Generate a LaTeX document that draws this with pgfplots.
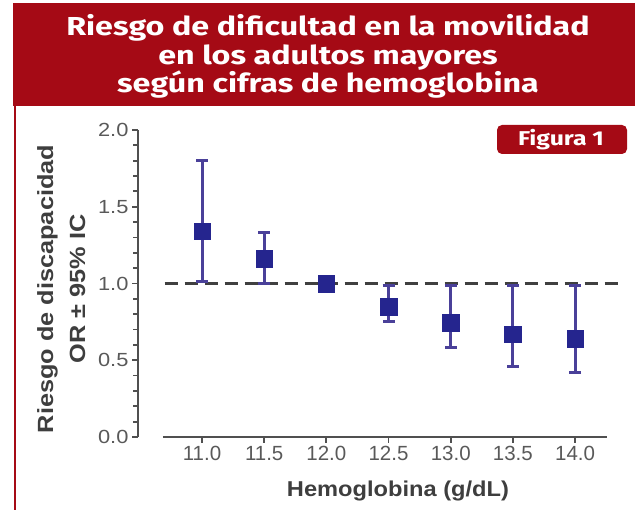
\documentclass[border=0pt]{standalone}
\usepackage{fontspec}
\setmainfont{Liberation Sans}
\newfontfamily\titlefont[FakeStretch=1.24]{Fira Sans}
\newfontfamily\ytickfont[FakeStretch=1.15]{Liberation Sans}
\newfontfamily\ylabfont[FakeStretch=1.15]{Liberation Sans}
\newfontfamily\xlabfont[FakeStretch=1.1]{Liberation Sans}
\usepackage{pgfplots}
\pgfplotsset{compat=1.18}
\definecolor{hdr}{HTML}{A50A15}
\definecolor{markerblue}{HTML}{25258E}
\definecolor{barblue}{HTML}{4A4099}
\definecolor{axisgray}{HTML}{505050}
\definecolor{ticklabel}{HTML}{595959}
\definecolor{labelgray}{HTML}{3E3E3E}
\definecolor{dashgray}{HTML}{404040}
\pgfplotstableread{
x y ep em
11.0 1.34 0.46 0.33
11.5 1.16 0.17 0.16
12.0 1.00 0.00 0.00
12.5 0.85 0.14 0.10
13.0 0.745 0.245 0.165
13.5 0.67 0.32 0.21
14.0 0.64 0.35 0.22
}\ordata
\begin{document}
\begin{tikzpicture}[x=1pt,y=1pt]
\path[use as bounding box] (0,0) rectangle (635,510);
\fill[hdr] (13,404) rectangle (635,507);
\draw[hdr, line width=2pt] (15,0) -- (15,404);
\begin{scope}[every node/.style={anchor=base, text=white, font=\titlefont\bfseries\fontsize{26}{28}\selectfont}]
\node at (328,474) {Riesgo de dificultad en la movilidad};
\node at (328,445.5) {en los adultos mayores};
\node at (328,417) {según cifras de hemoglobina};
\end{scope}
\fill[hdr, rounded corners=5pt] (497,356) rectangle (627,385);
\node[text=white, font=\titlefont\bfseries\fontsize{20}{20}\selectfont] at (561,370.5) {Figura 1};
\begin{axis}[
  at={(138pt,73pt)}, anchor=south west, scale only axis,
  width=469pt, height=307pt,
  xmin=10.485, xmax=14.257, ymin=0, ymax=2,
  clip=false,
  axis x line*=bottom, axis y line*=left,
  x axis line style={draw=none},
  y axis line style={axisgray, line width=2.6pt},
  xtick={11,11.5,12,12.5,13,13.5,14},
  ytick={0,0.5,1,1.5,2},
  minor y tick num=4,
  tick align=outside,
  major tick length=6pt, minor tick length=5pt,
  tick style={axisgray, line width=1.8pt},
  /pgf/number format/assume math mode=true,
  xticklabel style={font=\fontsize{20.5}{20.5}\selectfont, text=ticklabel, /pgf/number format/.cd, fixed, fixed zerofill, precision=1},
  yticklabel style={font=\ytickfont\fontsize{19}{19}\selectfont, text=ticklabel, /pgf/number format/.cd, fixed, fixed zerofill, precision=1},
]
\draw[axisgray, line width=2.6pt] (axis cs:10.686,0) -- (axis cs:14.257,0);
\addplot[dash pattern=on 13pt off 7pt, color=dashgray, line width=2.2pt] coordinates {(10.70,1) (14.35,1)};
\addplot[only marks, mark=square*, mark size=8.3pt, color=markerblue,
  error bars/.cd, y dir=both, y explicit,
  error bar style={barblue, line width=3pt},
  error mark options={barblue, line width=3pt, mark size=6pt, rotate=90}]
  table[x=x, y=y, y error plus=ep, y error minus=em] {\ordata};
\end{axis}
\node[rotate=90, anchor=base, font=\ylabfont\bfseries\fontsize{22}{22}\selectfont, text=labelgray] at (53,221) {Riesgo de discapacidad};
\node[rotate=90, anchor=base, font=\ylabfont\bfseries\fontsize{22}{22}\selectfont, text=labelgray] at (85,221) {OR ± 95\% IC};
\node[anchor=base, font=\xlabfont\bfseries\fontsize{21.5}{21.5}\selectfont, text=labelgray] at (398,13) {Hemoglobina (g/dL)};
\end{tikzpicture}
\end{document}
